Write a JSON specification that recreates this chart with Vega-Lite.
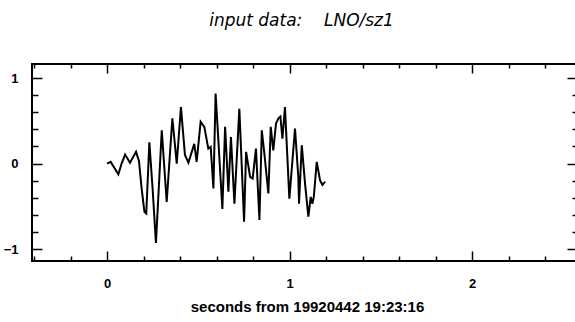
{
  "$schema": "https://vega.github.io/schema/vega-lite/v6.json",
  "width": 545,
  "height": 197,
  "autosize": "none",
  "padding": {"left": 32, "top": 64, "right": 0, "bottom": 61},
  "background": "white",
  "title": {"text": "input data:\u00a0\u00a0\u00a0 LNO/sz1", "font": "DejaVu Sans", "fontStyle": "italic", "fontWeight": "normal", "fontSize": 17, "color": "black", "offset": 33, "anchor": "middle", "dx": -3},
  "config": {
    "view": {"stroke": "black", "strokeWidth": 2},
    "axis": {"domain": false, "grid": false, "tickColor": "black", "tickWidth": 1.5, "labelColor": "black", "labelFont": "Liberation Sans", "labelFontWeight": "bold", "labelFontSize": 13, "titleColor": "black"}
  },
  "data": {"values": [
    {"t": 0.000, "v": 0.00}, {"t": 0.020, "v": 0.02}, {"t": 0.040, "v": -0.05}, {"t": 0.062, "v": -0.125},
    {"t": 0.080, "v": 0.00}, {"t": 0.099, "v": 0.105}, {"t": 0.126, "v": 0.01}, {"t": 0.159, "v": 0.137},
    {"t": 0.175, "v": 0.03}, {"t": 0.190, "v": -0.30}, {"t": 0.205, "v": -0.565}, {"t": 0.215, "v": -0.585},
    {"t": 0.232, "v": 0.25}, {"t": 0.250, "v": -0.30}, {"t": 0.268, "v": -0.93}, {"t": 0.300, "v": 0.39},
    {"t": 0.327, "v": -0.45}, {"t": 0.358, "v": 0.53}, {"t": 0.382, "v": 0.00}, {"t": 0.405, "v": 0.66},
    {"t": 0.427, "v": 0.10}, {"t": 0.446, "v": 0.01}, {"t": 0.478, "v": 0.23}, {"t": 0.491, "v": 0.02},
    {"t": 0.513, "v": 0.49}, {"t": 0.533, "v": 0.43}, {"t": 0.555, "v": 0.175}, {"t": 0.568, "v": 0.195},
    {"t": 0.583, "v": -0.29}, {"t": 0.595, "v": 0.82}, {"t": 0.632, "v": -0.53}, {"t": 0.647, "v": 0.43},
    {"t": 0.665, "v": -0.33}, {"t": 0.679, "v": 0.31}, {"t": 0.698, "v": -0.47}, {"t": 0.725, "v": 0.64},
    {"t": 0.751, "v": -0.68}, {"t": 0.762, "v": 0.137}, {"t": 0.784, "v": -0.155}, {"t": 0.798, "v": -0.175},
    {"t": 0.816, "v": 0.175}, {"t": 0.835, "v": -0.66}, {"t": 0.848, "v": 0.39}, {"t": 0.862, "v": 0.12},
    {"t": 0.884, "v": -0.35}, {"t": 0.897, "v": 0.43}, {"t": 0.911, "v": 0.155}, {"t": 0.926, "v": 0.47},
    {"t": 0.939, "v": 0.53}, {"t": 0.950, "v": 0.55}, {"t": 0.961, "v": 0.29}, {"t": 0.975, "v": 0.66},
    {"t": 0.999, "v": -0.41}, {"t": 1.030, "v": 0.41}, {"t": 1.048, "v": -0.155}, {"t": 1.052, "v": -0.47},
    {"t": 1.067, "v": 0.215}, {"t": 1.085, "v": -0.235}, {"t": 1.103, "v": -0.62}, {"t": 1.116, "v": -0.39},
    {"t": 1.125, "v": -0.47}, {"t": 1.133, "v": -0.39}, {"t": 1.149, "v": 0.02}, {"t": 1.167, "v": -0.195},
    {"t": 1.180, "v": -0.25}, {"t": 1.195, "v": -0.21}
  ]},
  "resolve": {"axis": {"x": "independent", "y": "independent"}},
  "layer": [
    {
      "mark": {"type": "line", "color": "black", "strokeWidth": 2, "interpolate": "linear"},
      "encoding": {
        "x": {"field": "t", "type": "quantitative", "scale": {"domain": [-0.411, 2.575], "nice": false, "zero": false},
              "axis": {"orient": "bottom", "values": [0, 1, 2], "tickSize": -10, "labelPadding": 26, "format": "d",
                       "title": "seconds from 19920442 19:23:16", "titleFont": "Liberation Sans", "titleFontWeight": "bold", "titleFontSize": 15,
                       "titleX": 275, "titleY": 45, "titleBaseline": "middle", "titleAnchor": "middle"}},
        "y": {"field": "v", "type": "quantitative", "scale": {"domain": [-1.14, 1.165], "nice": false, "zero": false},
              "axis": {"orient": "left", "values": [-1, 0, 1], "tickSize": -10, "labelPadding": 24, "format": "d", "title": null}}
      }
    },
    {
      "mark": {"type": "line", "opacity": 0},
      "encoding": {
        "x": {"field": "t", "type": "quantitative", "axis": {"orient": "bottom", "values": [-0.4, -0.2, 0.2, 0.4, 0.6, 0.8, 1.2, 1.4, 1.6, 1.8, 2.2, 2.4], "tickSize": -5, "labels": false, "title": null}},
        "y": {"field": "v", "type": "quantitative", "axis": {"orient": "left", "values": [-0.8, -0.6, -0.4, -0.2, 0.2, 0.4, 0.6, 0.8], "tickSize": -6, "labels": false, "title": null}}
      }
    },
    {
      "mark": {"type": "line", "opacity": 0},
      "encoding": {
        "x": {"field": "t", "type": "quantitative", "axis": {"orient": "top", "values": [0, 1, 2], "tickSize": -9, "labels": false, "title": null}},
        "y": {"field": "v", "type": "quantitative", "axis": {"orient": "right", "values": [-1, 0, 1], "tickSize": -10, "labels": false, "title": null}}
      }
    },
    {
      "mark": {"type": "line", "opacity": 0},
      "encoding": {
        "x": {"field": "t", "type": "quantitative", "axis": {"orient": "top", "values": [-0.4, -0.2, 0.2, 0.4, 0.6, 0.8, 1.2, 1.4, 1.6, 1.8, 2.2, 2.4], "tickSize": -4, "labels": false, "title": null}},
        "y": {"field": "v", "type": "quantitative", "axis": {"orient": "right", "values": [-0.8, -0.6, -0.4, -0.2, 0.2, 0.4, 0.6, 0.8], "tickSize": -5, "labels": false, "title": null}}
      }
    }
  ]
}
